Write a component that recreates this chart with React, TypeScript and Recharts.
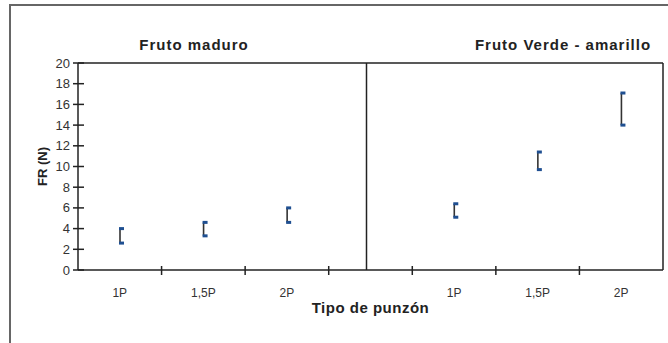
import React from 'react';
import { ComposedChart, Bar, XAxis, YAxis, ReferenceLine, Label } from 'recharts';

// Panels and x categories
const groups = ['Fruto maduro', 'Fruto Verde - amarillo'];
const punzones = ['1P', '1,5P', '2P'];

// FR (N) ranges (low / high end of each bracket)
const maduroLow = [2.6, 3.3, 4.6];
const maduroHigh = [4.0, 4.6, 6.0];
const verdeLow = [5.1, 9.7, 14.0];
const verdeHigh = [6.4, 11.4, 17.1];

const yTicks = [0, 2, 4, 6, 8, 10, 12, 14, 16, 18, 20];

const data = [
  ...punzones.map((p, i) => ({ key: 'm' + i, label: p, range: [maduroLow[i], maduroHigh[i]] })),
  { key: 'gap', label: '', range: null },
  ...punzones.map((p, i) => ({ key: 'v' + i, label: p, range: [verdeLow[i], verdeHigh[i]] })),
];

const W = 668;
const H = 343;
const PLOT_LEFT = 78;
const PLOT_RIGHT = 663;
const BAND = (PLOT_RIGHT - PLOT_LEFT) / data.length;
const AXIS = '#222';
const FONT = 'Liberation Sans, Arial, sans-serif';

const XTick = (props: any) => {
  const { x, y, payload, index } = props;
  const item = data[index] || data.find(d => d.key === payload.value);
  return (
    <g>
      {index > 0 && (
        <line x1={x - BAND / 2} x2={x - BAND / 2} y1={y - 4} y2={y + 5} stroke={AXIS} strokeWidth={1.5} />
      )}
      <text x={x} y={y + 27} textAnchor="middle" fontSize={12} fill="#333" fontFamily={FONT}>
        {item ? item.label : ''}
      </text>
    </g>
  );
};

const YTick = (props: any) => {
  const { x, y, payload } = props;
  return (
    <g>
      <line x1={x - 5} x2={x + 6} y1={y} y2={y} stroke={AXIS} strokeWidth={1.5} />
      <text x={x - 8} y={y + 4.5} textAnchor="end" fontSize={13} fill="#333" fontFamily={FONT}>
        {payload.value}
      </text>
    </g>
  );
};

const Bracket = (props: any) => {
  const { x, y, width, height } = props;
  if (height == null || isNaN(height)) return null;
  const cx = x + width / 2;
  return (
    <g>
      <line x1={cx} x2={cx} y1={y} y2={y + height} stroke="#333" strokeWidth={1.6} />
      <rect x={cx - 1} y={y - 1.5} width={5} height={3} fill="#1f4f91" />
      <rect x={cx - 1} y={y + height - 1.5} width={5} height={3} fill="#1f4f91" />
    </g>
  );
};

// panel divider sits slightly left of the gap band centre in the original
const Divider = (props: any) => {
  const { x1, x2, y1, y2 } = props;
  return <line x1={x1 - 4} x2={x2 - 4} y1={y1} y2={y2} stroke={AXIS} strokeWidth={1.5} />;
};

export default function App() {
  return (
    <div style={{ position: 'absolute', left: 0, top: 0, width: W, height: H, background: '#fff', overflow: 'hidden' }}>
      <div
        style={{
          position: 'absolute',
          left: 9,
          top: 4,
          width: W,
          height: H,
          borderTop: '2px solid #666',
          borderLeft: '2px solid #666',
        }}
      />
      {groups.map((g, i) => (
        <div
          key={g}
          style={{
            position: 'absolute',
            top: 36,
            left: i === 0 ? 94 : 463,
            width: 200,
            textAlign: 'center',
            fontFamily: FONT,
            fontWeight: 'bold',
            fontSize: 15,
            letterSpacing: 1,
            color: '#222',
          }}
        >
          {g}
        </div>
      ))}
      <div style={{ position: 'absolute', left: 0, top: 0 }}>
        <ComposedChart width={W} height={H} data={data} margin={{ top: 63, right: W - PLOT_RIGHT - 1, bottom: 23, left: 0 }}>
          <XAxis
            dataKey="key"
            type="category"
            interval={0}
            height={50}
            tickSize={0}
            tickMargin={0}
            tickLine={false}
            axisLine={{ stroke: AXIS, strokeWidth: 1.5 }}
            tick={<XTick />}
          >
            <Label
              value="Tipo de punzón"
              position="insideBottom"
              offset={7}
              style={{ fontFamily: FONT, fontWeight: 'bold', fontSize: 15, letterSpacing: 0.5, fill: '#222' }}
            />
          </XAxis>
          <YAxis
            domain={[0, 20]}
            ticks={yTicks}
            interval={0}
            width={PLOT_LEFT}
            tickSize={0}
            tickMargin={0}
            tickLine={false}
            axisLine={{ stroke: AXIS, strokeWidth: 1.5 }}
            tick={<YTick />}
          >
            <Label
              value="FR (N)"
              angle={-90}
              position="center"
              dx={3}
              style={{ fontFamily: FONT, fontWeight: 'bold', fontSize: 13, fill: '#222', textAnchor: 'middle' }}
            />
          </YAxis>
          <YAxis
            yAxisId="right"
            orientation="right"
            domain={[0, 20]}
            width={1}
            tick={false}
            tickLine={false}
            axisLine={{ stroke: AXIS, strokeWidth: 1.5 }}
          />
          <ReferenceLine y={20} stroke={AXIS} strokeWidth={1.5} />
          <ReferenceLine yAxisId="right" y={0} stroke="none" />
          <ReferenceLine x="gap" shape={<Divider />} />
          <Bar dataKey="range" barSize={6} shape={<Bracket />} isAnimationActive={false} />
        </ComposedChart>
      </div>
    </div>
  );
}
